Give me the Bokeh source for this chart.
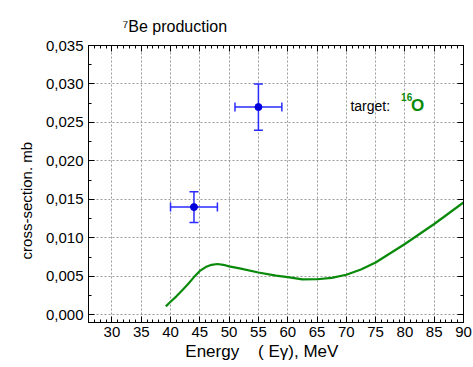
from bokeh.plotting import figure
from bokeh.models import (Range1d, LinearAxis, FixedTicker, CustomJSTickFormatter,
                          Label, Whisker, TeeHead, ColumnDataSource)
from bokeh.embed import file_html
from bokeh.resources import INLINE

# Calculated 7Be production cross-section on 16O (MeV, mb)
curve_energy = [39.2, 40, 41, 42, 43, 44, 45, 46, 47, 48, 49, 50, 52, 55, 58, 60,
                62.5, 65, 67.5, 70, 72.5, 75, 77.5, 80, 82.5, 85, 87.5, 90]
curve_sigma = [0.0011, 0.0017, 0.0024, 0.0032, 0.0040, 0.0049, 0.0057, 0.0062,
               0.0065, 0.0066, 0.0065, 0.0063, 0.0060, 0.0055, 0.0051, 0.0049,
               0.00460, 0.00462, 0.0048, 0.0052, 0.0059, 0.0068, 0.0080, 0.0092,
               0.0105, 0.0118, 0.0132, 0.0146]

# Measured points with energy and cross-section uncertainties
exp_energy = [44, 55]
exp_sigma = [0.014, 0.027]
exp_energy_err = [4, 4]
exp_sigma_err = [0.002, 0.003]

x_ticks = [30, 35, 40, 45, 50, 55, 60, 65, 70, 75, 80, 85, 90]
y_ticks = [0.000, 0.005, 0.010, 0.015, 0.020, 0.025, 0.030, 0.035]

FONT = "Liberation Sans"
GREEN = "#0a8a0a"
BLUE = "#2a2aff"
NB = "\u00a0"

p = figure(width=473, height=367, output_backend="svg", toolbar_location=None,
           x_range=Range1d(26, 90), y_range=Range1d(-0.001, 0.035),
           min_border_left=88, min_border_right=10, min_border_top=45,
           min_border_bottom=45, x_axis_location=None, y_axis_location=None)
p.outline_line_color = "black"
p.outline_line_width = 1
p.background_fill_color = "white"
p.border_fill_color = "white"

p.title.text = "\u2077Be production"
p.title.text_font = FONT
p.title.text_font_size = "16px"
p.title.text_font_style = "normal"
p.title.text_color = "black"
p.title.align = "left"
p.title.offset = 34
p.title.standoff = 22

fmt = CustomJSTickFormatter(code="return tick.toFixed(3).replace('.', ',');")
blank = CustomJSTickFormatter(code="return '';")
xt = FixedTicker(ticks=x_ticks, minor_ticks=list(range(26, 91)))
yt = FixedTicker(ticks=y_ticks, minor_ticks=[i * 0.0025 for i in range(0, 15)])


def style_axis(ax, show_labels):
    ax.axis_line_color = "black"
    ax.axis_line_width = 1
    ax.major_tick_in = 6
    ax.major_tick_out = 0
    ax.minor_tick_in = 3
    ax.minor_tick_out = 0
    ax.major_tick_line_color = "black"
    ax.minor_tick_line_color = "black"
    ax.major_label_text_font = FONT
    ax.major_label_text_color = "black"
    ax.major_label_text_font_size = "15px"
    ax.axis_label_text_font = FONT
    ax.axis_label_text_font_style = "normal"
    ax.axis_label_text_color = "black"
    ax.axis_label_text_font_size = "15px"
    if show_labels:
        ax.major_label_standoff = 5
    else:
        ax.formatter = blank
        ax.major_label_standoff = 0


xb = LinearAxis(ticker=xt)
style_axis(xb, True)
xb.axis_label = "Energy" + NB * 4 + "( E\u03b3), MeV" + NB * 6
xb.axis_label_text_font_size = "17px"
xb.axis_label_text_baseline = "middle"
xb.major_label_standoff = 4
xb.axis_label_standoff = 2
p.add_layout(xb, "below")

xa = LinearAxis(ticker=xt)
style_axis(xa, False)
p.add_layout(xa, "above")

yl = LinearAxis(ticker=yt, formatter=fmt)
style_axis(yl, True)
yl.axis_label = "cross-section. mb" + NB * 8
yl.axis_label_standoff = 8
p.add_layout(yl, "left")

yr = LinearAxis(ticker=yt)
style_axis(yr, False)
p.add_layout(yr, "right")

p.xgrid.ticker = xt
p.ygrid.ticker = yt
for g in (p.xgrid, p.ygrid):
    g.grid_line_color = "#9a9a9a"
    g.grid_line_dash = "2 2"
    g.grid_line_width = 1
    g.minor_grid_line_color = None

# Calculated curve
p.line(curve_energy, curve_sigma, line_color=GREEN, line_width=2.2)

# Measured points with error bars
src = ColumnDataSource(dict(
    x=exp_energy, y=exp_sigma,
    xl=[e - d for e, d in zip(exp_energy, exp_energy_err)],
    xu=[e + d for e, d in zip(exp_energy, exp_energy_err)],
    yl=[s - d for s, d in zip(exp_sigma, exp_sigma_err)],
    yu=[s + d for s, d in zip(exp_sigma, exp_sigma_err)],
))
for base, lo, hi, dim in (("x", "yl", "yu", "height"), ("y", "xl", "xu", "width")):
    p.add_layout(Whisker(
        source=src, base=base, lower=lo, upper=hi, dimension=dim,
        line_color=BLUE, line_width=1.5,
        upper_head=TeeHead(size=9, line_color=BLUE, line_width=1.5),
        lower_head=TeeHead(size=9, line_color=BLUE, line_width=1.5)))
p.scatter("x", "y", source=src, size=7, fill_color="#0000dd", line_color="#0000dd")

# Target annotation
p.add_layout(Label(x=70.7, y=0.02715, text="target:", text_font=FONT,
                   text_font_size="14px", text_color="black",
                   text_baseline="alphabetic"))
p.add_layout(Label(x=79.35, y=0.0283, text="16", text_font=FONT,
                   text_font_size="10px", text_font_style="bold",
                   text_color=GREEN, text_baseline="alphabetic"))
p.add_layout(Label(x=81.05, y=0.02715, text="O", text_font=FONT,
                   text_font_size="17px", text_font_style="bold",
                   text_color=GREEN, text_baseline="alphabetic"))

open("out.html", "w").write(file_html(p, INLINE))
